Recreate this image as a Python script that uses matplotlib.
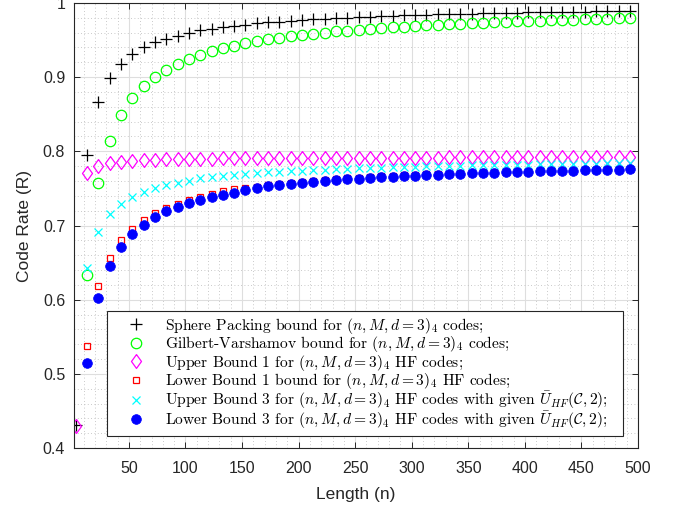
import numpy as np
import matplotlib
matplotlib.use("Agg")
import matplotlib.pyplot as plt
from matplotlib.ticker import MultipleLocator, FixedLocator, FixedFormatter
from matplotlib.font_manager import FontProperties

# -----------------------
# Data
# -----------------------
lengths = list(range(3, 494, 10))

sphere_packing = [
    0.431, 0.795, 0.867, 0.899, 0.918, 0.931, 0.940, 0.947, 0.952, 0.956,
    0.960, 0.963, 0.965, 0.9675, 0.969, 0.971, 0.9726, 0.974, 0.975, 0.976,
    0.977, 0.978, 0.979, 0.9797, 0.9804, 0.9811, 0.9817, 0.9823, 0.9828, 0.9833,
    0.9838, 0.9842, 0.9846, 0.9850, 0.9854, 0.9858, 0.9861, 0.9864, 0.9867, 0.9870,
    0.9873, 0.9876, 0.9878, 0.9881, 0.9883, 0.9885, 0.9887, 0.9889, 0.9891, 0.9893,
]

gilbert_varshamov = [
    0.130, 0.633, 0.757, 0.8145, 0.8487, 0.8715, 0.888, 0.9004, 0.9102, 0.918,
    0.9246, 0.930, 0.9347, 0.9388, 0.9424, 0.9455, 0.9483, 0.9508, 0.953, 0.955,
    0.9569, 0.9586, 0.9602, 0.9616, 0.9629, 0.9642, 0.9653, 0.9664, 0.9674, 0.9683,
    0.9692, 0.9701, 0.9708, 0.9716, 0.9723, 0.9730, 0.9736, 0.9742, 0.9748, 0.9753,
    0.9758, 0.9763, 0.9768, 0.9773, 0.9777, 0.9781, 0.9785, 0.9789, 0.9793, 0.9797,
]

upper_bound_1 = [
    0.430, 0.771, 0.7807, 0.7838, 0.7855, 0.7865, 0.788, 0.7887, 0.789, 0.7895,
    0.7898, 0.790, 0.7902, 0.7904, 0.7905, 0.7907, 0.7908, 0.7909, 0.7910, 0.7911,
    0.7911, 0.7912, 0.7912, 0.7913, 0.7913, 0.7914, 0.7914, 0.7915, 0.7915, 0.7915,
    0.7916, 0.7916, 0.7916, 0.7917, 0.7917, 0.7917, 0.7917, 0.7918, 0.7918, 0.7918,
    0.7918, 0.7918, 0.7919, 0.7919, 0.7919, 0.7919, 0.7919, 0.7919, 0.7919, 0.7919,
]

lower_bound_1 = [
    np.nan, 0.538, 0.618, 0.656, 0.680, 0.6955, 0.7077, 0.717, 0.7234, 0.7293,
    0.7347, 0.7383, 0.7423, 0.7459, 0.7486, 0.751, 0.7524, 0.7543, 0.7560, 0.7575,
    0.7589, 0.7602, 0.7614, 0.7625, 0.7635, 0.7644, 0.7653, 0.7661, 0.7669, 0.7676,
    0.7683, 0.7689, 0.7695, 0.7701, 0.7706, 0.7712, 0.7717, 0.7721, 0.7726, 0.7730,
    0.7734, 0.7738, 0.7741, 0.7745, 0.7748, 0.7752, 0.7755, 0.7758, 0.7761, 0.7763,
]

upper_bound_3 = [
    np.nan, 0.6424, 0.6915, 0.7149, 0.7284, 0.7383, 0.7446, 0.750, 0.7545, 0.7572,
    0.7606, 0.7639, 0.7658, 0.767, 0.768, 0.7695, 0.7705, 0.7715, 0.7725, 0.7733,
    0.7741, 0.7748, 0.7755, 0.7761, 0.7767, 0.7772, 0.7777, 0.7782, 0.7786, 0.7790,
    0.7794, 0.7798, 0.7801, 0.7804, 0.7807, 0.7810, 0.7813, 0.7815, 0.7818, 0.7820,
    0.7822, 0.7825, 0.7827, 0.7829, 0.7831, 0.7832, 0.7834, 0.7836, 0.7837, 0.7839,
]

lower_bound_3 = [
    np.nan, 0.514, 0.602, 0.645, 0.6707, 0.6888, 0.7009, 0.7112, 0.7189, 0.7248,
    0.7297, 0.7338, 0.7383, 0.7415, 0.7442, 0.7478, 0.7506, 0.7526, 0.7544, 0.7559,
    0.7574, 0.7588, 0.7601, 0.7612, 0.7623, 0.7632, 0.7642, 0.7650, 0.7658, 0.7666,
    0.7673, 0.7679, 0.7686, 0.7692, 0.7697, 0.7704, 0.7709, 0.7713, 0.7718, 0.7722,
    0.7727, 0.7731, 0.7734, 0.7738, 0.7741, 0.7745, 0.7749, 0.7752, 0.7755, 0.7757,
]

labels = [
    r"Sphere Packing bound for $(n,M,d=3)_4$ codes;",
    r"Gilbert-Varshamov bound for $(n,M,d=3)_4$ codes;",
    r"Upper Bound 1 for $(n,M,d=3)_4$ HF codes;",
    r"Lower Bound 1 bound for $(n,M,d=3)_4$ HF codes;",
    r"Upper Bound 3 for $(n,M,d=3)_4$ HF codes with given $\bar{U}_{HF}(\mathcal{C},2)$;",
    r"Lower Bound 3 for $(n,M,d=3)_4$ HF codes with given $\bar{U}_{HF}(\mathcal{C},2)$;",
]

x_ticks = list(range(50, 501, 50))
y_ticks = [0.4, 0.5, 0.6, 0.7, 0.8, 0.9, 1.0]
y_tick_labels = ["0.4", "0.5", "0.6", "0.7", "0.8", "0.9", "1"]

# -----------------------
# Plot
# -----------------------
plt.rcParams["mathtext.fontset"] = "cm"
plt.rcParams["font.family"] = ["Liberation Sans", "DejaVu Sans"]

axis_color = "#262626"
diamond = [(0, 1), (0.72, 0), (0, -1), (-0.72, 0), (0, 1)]

fig = plt.figure(figsize=(6.8, 5.08), dpi=100)
ax = fig.add_axes([0.1081, 0.1181, 0.8301, 0.876])

ax.plot(lengths, sphere_packing, linestyle="none", marker="+", ms=8, mew=0.9,
        color="black", label=labels[0])
ax.plot(lengths, gilbert_varshamov, linestyle="none", marker="o", ms=7.5, mew=0.9,
        mfc="none", mec="#00ff00", label=labels[1])
ax.plot(lengths, upper_bound_1, linestyle="none", marker=diamond, ms=10, mew=0.9,
        mfc="none", mec="#ff00ff", label=labels[2])
ax.plot(lengths, lower_bound_1, linestyle="none", marker="s", ms=5, mew=0.9,
        mfc="none", mec="#ff0000", label=labels[3])
ax.plot(lengths, upper_bound_3, linestyle="none", marker="x", ms=5.5, mew=0.9,
        color="#00ffff", label=labels[4])
ax.plot(lengths, lower_bound_3, linestyle="none", marker="o", ms=7, mew=0.5,
        mfc="#0000ff", mec="#0000ff", label=labels[5])

ax.set_xlim(1, 500)
ax.set_ylim(0.4, 1.0)
ax.xaxis.set_major_locator(FixedLocator(x_ticks))
ax.xaxis.set_minor_locator(MultipleLocator(10))
ax.yaxis.set_major_locator(FixedLocator(y_ticks))
ax.yaxis.set_major_formatter(FixedFormatter(y_tick_labels))
ax.yaxis.set_minor_locator(MultipleLocator(0.02))

ax.grid(True, which="major", color="#dedede", linewidth=0.8, linestyle="-")
ax.grid(True, which="minor", color="#b8b8b8", linewidth=0.6, linestyle=(0, (1, 3)))
ax.set_axisbelow(True)

ax.tick_params(which="major", direction="in", length=4, width=0.7,
               top=True, right=True, colors=axis_color, labelsize=11.5, pad=6)
ax.tick_params(axis="x", which="major", pad=9)
ax.tick_params(which="minor", length=0, top=True, right=True)
for s in ax.spines.values():
    s.set_color(axis_color)
    s.set_linewidth(0.8)

ax.set_xlabel("Length (n)", fontsize=12.5, color=axis_color, labelpad=8)
ax.set_ylabel("Code Rate (R)", fontsize=12.5, color=axis_color, labelpad=8)

leg = ax.legend(loc="lower left", bbox_to_anchor=(0.059, 0.028, 0.914, 0.27),
                mode="expand",
                prop=FontProperties(family="cmr10", size=11.2),
                frameon=True, fancybox=False, edgecolor=axis_color,
                framealpha=1.0, handlelength=3.1, handletextpad=0.37,
                labelspacing=-0.1, borderpad=0.3, borderaxespad=0.0)
leg.get_frame().set_linewidth(0.8)

fig.savefig("out.png", dpi=100)
